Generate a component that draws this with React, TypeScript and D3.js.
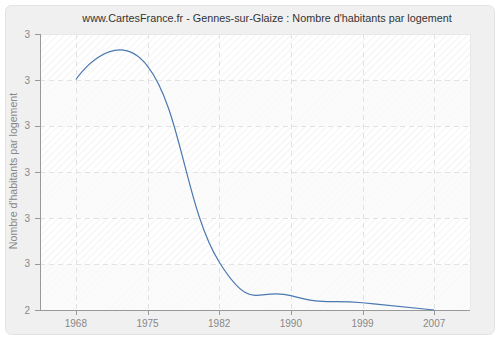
import React from "react";
import * as d3 from "d3";

const years = ["1968", "1975", "1982", "1990", "1999", "2007"];
const values = [2.9093, 2.9362, 2.5457, 2.4785, 2.4645, 2.45];
const yTickValues = [2.45, 2.5417, 2.6333, 2.725, 2.8167, 2.9083, 3.0];
const yTickLabels = ["2", "3", "3", "3", "3", "3", "3"];
const title = "www.CartesFrance.fr - Gennes-sur-Glaize : Nombre d'habitants par logement";
const yTitle = "Nombre d'habitants par logement";

export default function App() {
  const W = 500, H = 340;
  const left = 40, right = 470, top = 34, bottom = 310;
  const x = d3.scalePoint<string>().domain(years).range([left, right]).padding(0.5);
  const y = d3.scaleLinear().domain([2.45, 3.0]).range([bottom, top]);
  const line = d3.line<number>()
    .x((_, i) => x(years[i]) as number)
    .y((d) => y(d))
    .curve(d3.curveCardinal.tension(-0.4));
  const font = "'Liberation Sans', Arial, sans-serif";
  const bands = yTickValues.slice(0, -1).map((v, i) => ({ y0: y(yTickValues[i + 1]), y1: y(v), i }));
  return (
    <svg width={W} height={H} style={{ position: "absolute", left: 0, top: 0 }}>
      <defs>
        <pattern id="hatch" width="5" height="5" patternUnits="userSpaceOnUse" patternTransform="rotate(45)">
          <rect width="5" height="5" fill="#ffffff" />
          <line x1="0" y1="0" x2="0" y2="5" stroke="#ececec" strokeWidth="1.2" />
        </pattern>
      </defs>
      <rect x={0} y={0} width={W} height={H} fill="#ffffff" />
      <rect x={5.5} y={5.5} width={489} height={329} rx={6} fill="#f0f0f0" stroke="#e2e2e2" />
      <rect x={left} y={top} width={right - left} height={bottom - top} fill="url(#hatch)" />
      {bands.filter((b) => b.i % 2 === 0).map((b) => (
        <rect key={b.i} x={left} y={b.y0} width={right - left} height={b.y1 - b.y0} fill="#f9f9f9" opacity={0.75} />
      ))}
      {yTickValues.slice(1).map((v, i) => (
        <line key={"gy" + i} x1={left} x2={right} y1={Math.round(y(v)) + 0.5} y2={Math.round(y(v)) + 0.5} stroke="#e2e2e2" strokeDasharray="5,4" />
      ))}
      {years.map((yr) => (
        <line key={"gx" + yr} x1={Math.round(x(yr) as number) + 0.5} x2={Math.round(x(yr) as number) + 0.5} y1={top} y2={bottom} stroke="#e2e2e2" strokeDasharray="5,4" />
      ))}
      <line x1={left} x2={right} y1={top + 0.5} y2={top + 0.5} stroke="#e8e8e8" />
      <line x1={right + 0.5} x2={right + 0.5} y1={top} y2={bottom} stroke="#e8e8e8" />
      <line x1={left + 0.5} x2={left + 0.5} y1={top} y2={bottom} stroke="#999" />
      <line x1={left} x2={right} y1={bottom + 0.5} y2={bottom + 0.5} stroke="#999" />
      {yTickValues.map((v, i) => (
        <g key={"ty" + i}>
          <line x1={left - 5} x2={left} y1={Math.round(y(v)) + 0.5} y2={Math.round(y(v)) + 0.5} stroke="#999" />
          <text x={left - 10} y={y(v) + 3.5} textAnchor="end" fontFamily={font} fontSize={10} fill="#888">{yTickLabels[i]}</text>
        </g>
      ))}
      {years.map((yr) => (
        <g key={"tx" + yr}>
          <line x1={Math.round(x(yr) as number) + 0.5} x2={Math.round(x(yr) as number) + 0.5} y1={bottom} y2={bottom + 5} stroke="#999" />
          <text x={x(yr)} y={bottom + 17} textAnchor="middle" fontFamily={font} fontSize={10} fill="#888">{yr}</text>
        </g>
      ))}
      <path d={line(values) || ""} fill="none" stroke="#4a78b0" strokeWidth={1.2} />
      <text x={267} y={21.5} textAnchor="middle" fontFamily={font} fontSize={10.8} fill="#333">{title}</text>
      <text transform={`translate(17,${(top + bottom) / 2 - 1}) rotate(-90)`} textAnchor="middle" fontFamily={font} fontSize={10.6} fill="#888">{yTitle}</text>
    </svg>
  );
}
